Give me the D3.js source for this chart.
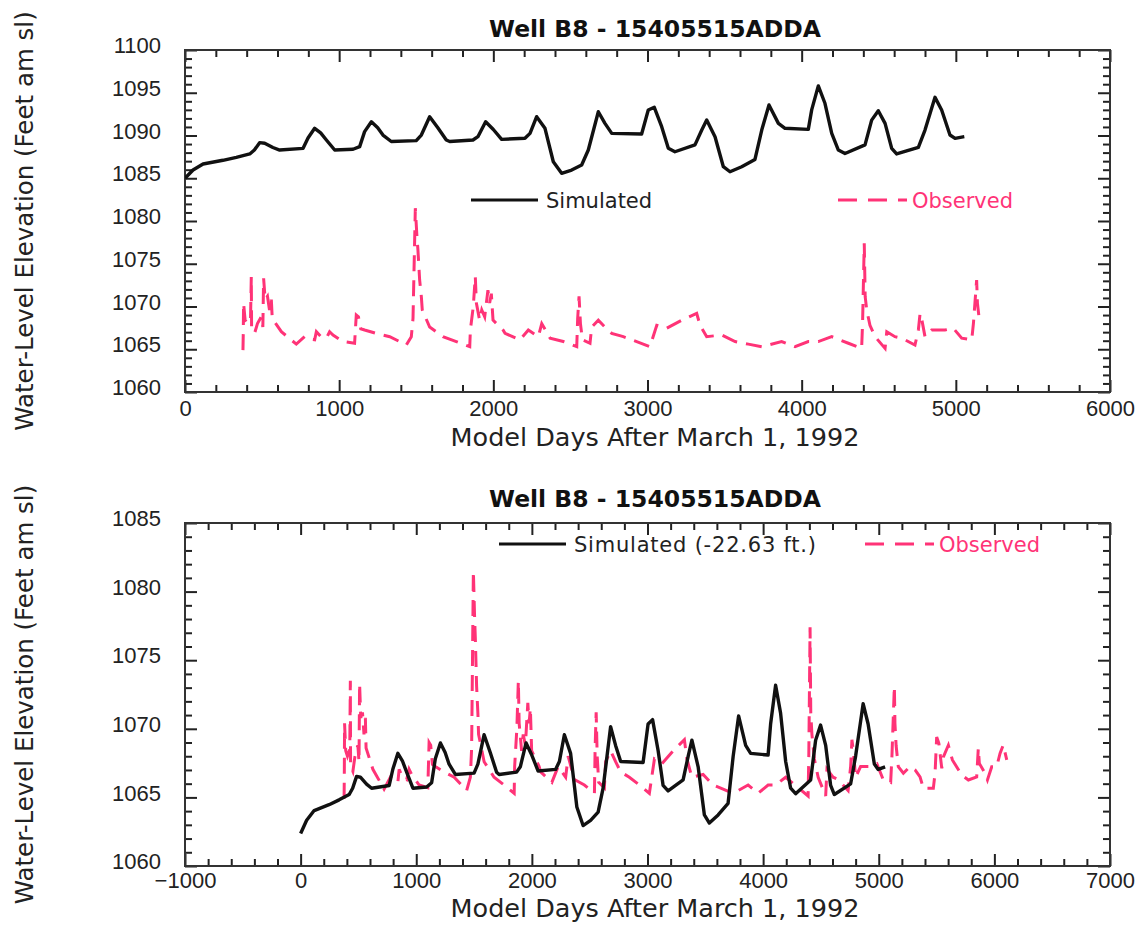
<!DOCTYPE html>
<html>
<head>
<meta charset="utf-8">
<script src="https://cdn.jsdelivr.net/npm/d3@7"></script>
<style>
  html, body { margin: 0; padding: 0; background: #fff; }
  svg { display: block; font-family: "DejaVu Sans", Verdana, sans-serif; }
</style>
</head>
<body>
<svg id="chart" width="1148" height="928"></svg>
<script>
// Well B8 - 15405515ADDA: simulated vs observed water levels

// Simulated heads (model days, feet amsl)
const simDays = [0, 52, 117, 246, 333, 420, 450, 484, 517, 570, 614, 766, 798, 841, 880, 917, 971,
  1090, 1133, 1165, 1209, 1250, 1284, 1338, 1500, 1533, 1587, 1640, 1695, 1717, 1868, 1900, 1950,
  2000, 2054, 2205, 2238, 2281, 2335, 2389, 2443, 2508, 2573, 2616, 2681, 2724, 2768, 2962, 3005,
  3044, 3092, 3135, 3178, 3308, 3352, 3384, 3438, 3492, 3535, 3611, 3697, 3741, 3788, 3849, 3892,
  4043, 4065, 4108, 4151, 4195, 4238, 4281, 4411, 4454, 4497, 4541, 4584, 4616, 4757, 4800, 4865,
  4908, 4962, 4995, 5055];
const simLevels = [1085.0, 1085.96, 1086.67, 1087.1, 1087.45, 1087.84, 1088.3, 1089.16, 1089.1, 1088.6,
  1088.3, 1088.5, 1089.7, 1090.84, 1090.3, 1089.47, 1088.3,
  1088.39, 1088.7, 1090.45, 1091.6, 1090.9, 1090.05, 1089.3, 1089.4, 1090.05, 1092.2, 1090.9, 1089.47,
  1089.3, 1089.47, 1089.86, 1091.6,
  1090.7, 1089.55, 1089.67, 1090.25, 1092.2, 1090.84, 1086.93, 1085.58, 1085.96, 1086.55, 1088.3,
  1092.78, 1091.42, 1090.25, 1090.17, 1092.98,
  1093.3, 1091.03, 1088.5, 1088.1, 1088.9, 1090.64, 1091.8, 1089.86, 1086.35, 1085.76, 1086.35,
  1087.2, 1090.64, 1093.57, 1091.42, 1090.84,
  1090.72, 1093.0, 1095.8, 1093.77, 1090.25, 1088.3, 1087.9, 1088.9, 1091.8, 1092.9, 1091.42,
  1088.5, 1087.84, 1088.62, 1090.64, 1094.46,
  1092.98, 1090.06, 1089.67, 1089.86];

// Shift applied to simulated heads in the lower panel
const simOffset = 22.63;

// Observed water levels (model days, feet amsl)
const obsDays = [376, 378, 380, 390, 405, 425, 430, 432, 452, 470, 495, 505, 510, 520, 535, 548, 560, 566,
  625, 722, 776, 800, 841, 852, 880, 917, 938, 960, 1025, 1100, 1111, 1125, 1140, 1165, 1241, 1328,
  1436, 1468, 1479, 1494, 1505, 1511, 1522, 1533, 1539, 1587, 1673, 1760, 1847, 1851, 1870, 1883,
  1890, 1911, 1925, 1944, 1965, 1976, 1987, 1998, 2063, 2076, 2173, 2227, 2292, 2314, 2368, 2454,
  2541, 2547, 2556, 2565, 2578, 2627, 2638, 2681, 2724, 2768, 2843, 2930, 3016, 3060, 3124, 3222,
  3319, 3341, 3384, 3481, 3568, 3654, 3741, 3870, 3957, 4043, 4108, 4195, 4303, 4389, 4395, 4406,
  4412, 4422, 4443, 4476, 4541, 4552, 4605, 4649, 4735, 4757, 4768, 4780, 4800, 4843, 4930, 4984,
  5038, 5103, 5114, 5135, 5140, 5150, 5169, 5213, 5270, 5314, 5357, 5386, 5472, 5487, 5501, 5520,
  5545, 5560, 5602, 5637, 5717, 5775, 5847, 5861, 5870, 5919, 5940, 5977, 6020, 6049, 6077, 6107];
const obsLevels = [1064.9, 1066.9, 1070.4, 1068.4, 1068.0, 1068.5, 1073.5, 1067.3, 1066.9, 1068.0, 1068.8,
  1067.6, 1073.3, 1070.8, 1071.2, 1069.6, 1070.8, 1068.6,
  1067.05, 1065.6, 1066.47, 1066.2, 1066.1, 1067.05, 1066.5, 1066.3, 1067.05, 1066.67, 1065.9, 1065.7,
  1069.0, 1068.8, 1067.4, 1067.25, 1066.86, 1066.47,
  1065.5, 1066.47, 1068.6, 1081.5, 1078.0, 1076.6, 1073.1, 1071.15, 1069.6, 1067.6, 1066.47, 1065.9,
  1065.3, 1067.25, 1070.0, 1073.5,
  1070.4, 1068.4, 1069.6, 1068.8, 1071.9, 1070.4, 1071.5, 1068.4, 1067.25, 1066.86, 1066.1, 1067.25,
  1066.47, 1068.0, 1066.3, 1065.9,
  1065.3, 1068.6, 1071.2, 1068.0, 1066.1, 1065.7, 1067.6, 1068.4, 1067.6, 1066.86, 1066.47, 1065.9,
  1065.3, 1067.8, 1067.45, 1068.4,
  1069.2, 1067.8, 1066.47, 1066.67, 1065.9, 1065.6, 1065.3, 1065.9, 1065.3, 1065.9, 1065.9, 1066.47,
  1065.7, 1065.1, 1068.0, 1077.4,
  1071.15, 1069.6, 1067.8, 1066.47, 1065.1, 1067.05, 1066.47, 1066.3, 1065.5, 1067.25, 1069.2, 1068.4,
  1066.47, 1067.25, 1067.25, 1067.45,
  1066.3, 1066.1, 1068.0, 1073.1, 1070.4, 1068.8, 1067.24, 1066.76, 1067.24, 1067.0, 1066.5, 1065.66,
  1065.66, 1066.76, 1069.4, 1068.94,
  1067.12, 1067.97, 1068.8, 1067.73, 1066.63, 1066.27, 1066.5, 1068.58, 1067.48, 1066.76, 1066.27,
  1067.24, 1067.24, 1068.2, 1068.82, 1067.73];

// Last observation day shown in the upper panel
const upperObsEnd = 5155;

// Axis ticks
const upperXTicks = [0, 1000, 2000, 3000, 4000, 5000, 6000];
const upperYTicks = [1060, 1065, 1070, 1075, 1080, 1085, 1090, 1095, 1100];
const lowerXTicks = [-1000, 0, 1000, 2000, 3000, 4000, 5000, 6000, 7000];
const lowerYTicks = [1060, 1065, 1070, 1075, 1080, 1085];

const titleText = "Well B8 - 15405515ADDA";
const xTitle = "Model Days After March 1, 1992";
const yTitle = "Water-Level Elevation (Feet am sl)";

const PINK = "#ff3377";
const INK = "#111";
const DASH = "16,9";

const svg = d3.select("#chart");

const simulated = simDays.map((d, i) => ({ day: d, level: simLevels[i] }));
const observed = obsDays.map((d, i) => ({ day: d, level: obsLevels[i] }));

function panel(cfg) {
  const { left, right, top, bottom } = cfg.box;
  const x = d3.scaleLinear().domain(cfg.xDomain).range([left, right]);
  const y = d3.scaleLinear().domain(cfg.yDomain).range([bottom, top]);
  const g = svg.append("g");

  const clipId = "clip-" + cfg.id;
  svg.append("clipPath").attr("id", clipId)
    .append("rect").attr("x", left).attr("y", top)
    .attr("width", right - left).attr("height", bottom - top);

  const minorX = d3.range(cfg.xDomain[0], cfg.xDomain[1] + 1, 200).filter(v => !cfg.xTicks.includes(v));
  const minorY = d3.range(cfg.yDomain[0], cfg.yDomain[1] + 0.5, 1).filter(v => !cfg.yTicks.includes(v));

  const styleAxis = sel => {
    sel.select(".domain").remove();
    sel.selectAll("line").attr("stroke", "#222").attr("stroke-width", 2);
    sel.selectAll("text").attr("fill", "#222").style("font-size", "22px");
  };

  // bottom axis with labels
  g.append("g").attr("transform", `translate(0,${bottom})`)
    .call(d3.axisBottom(x).tickValues(cfg.xTicks).tickSize(-12).tickPadding(cfg.xPad).tickFormat(d3.format("d")))
    .call(styleAxis);
  g.append("g").attr("transform", `translate(0,${bottom})`)
    .call(d3.axisBottom(x).tickValues(minorX).tickSize(-7).tickFormat(""))
    .call(styleAxis);
  // top axis ticks
  g.append("g").attr("transform", `translate(0,${top})`)
    .call(d3.axisTop(x).tickValues(cfg.xTicks).tickSize(-12).tickFormat(""))
    .call(styleAxis);
  g.append("g").attr("transform", `translate(0,${top})`)
    .call(d3.axisTop(x).tickValues(minorX).tickSize(-7).tickFormat(""))
    .call(styleAxis);
  // left axis with labels
  g.append("g").attr("transform", `translate(${left},0)`)
    .call(d3.axisLeft(y).tickValues(cfg.yTicks).tickSize(-12).tickPadding(24).tickFormat(d3.format("d")))
    .call(styleAxis)
    .call(s => s.selectAll("text").attr("dy", "0.12em"));
  g.append("g").attr("transform", `translate(${left},0)`)
    .call(d3.axisLeft(y).tickValues(minorY).tickSize(-7).tickFormat(""))
    .call(styleAxis);
  // right axis ticks
  g.append("g").attr("transform", `translate(${right},0)`)
    .call(d3.axisRight(y).tickValues(cfg.yTicks).tickSize(-12).tickFormat(""))
    .call(styleAxis);
  g.append("g").attr("transform", `translate(${right},0)`)
    .call(d3.axisRight(y).tickValues(minorY).tickSize(-7).tickFormat(""))
    .call(styleAxis);

  // frame
  g.append("rect").attr("x", left).attr("y", top)
    .attr("width", right - left).attr("height", bottom - top)
    .attr("fill", "none").attr("stroke", "#333").attr("stroke-width", 2);

  const line = d3.line().x(d => x(d.day)).y(d => y(d.level));
  const plot = g.append("g").attr("clip-path", `url(#${clipId})`);

  plot.append("path").datum(cfg.obs)
    .attr("d", line).attr("fill", "none")
    .attr("stroke", PINK).attr("stroke-width", 3)
    .attr("stroke-dasharray", DASH);

  plot.append("path").datum(cfg.sim)
    .attr("d", line).attr("fill", "none")
    .attr("stroke", INK).attr("stroke-width", 3.4)
    .attr("stroke-linejoin", "round");

  // titles
  g.append("text").attr("x", 655).attr("y", cfg.titleY)
    .attr("text-anchor", "middle").attr("font-weight", "bold")
    .style("font-size", "23.5px").attr("fill", "#111").text(titleText);
  g.append("text").attr("x", 655).attr("y", cfg.xTitleY)
    .attr("text-anchor", "middle").style("font-size", "25.5px").attr("fill", "#222").text(xTitle);
  g.append("text")
    .attr("transform", `translate(33,${(top + bottom) / 2}) rotate(-90)`)
    .attr("text-anchor", "middle").style("font-size", "24.5px").attr("fill", "#222").text(yTitle);

  // legend
  const L = cfg.legend;
  g.append("line").attr("x1", L.simX).attr("x2", L.simX + 67).attr("y1", L.y).attr("y2", L.y)
    .attr("stroke", INK).attr("stroke-width", 3);
  const simText = g.append("text").attr("x", L.simX + 75).attr("y", L.y + 7.5)
    .style("font-size", "21px").attr("fill", "#222").text(L.simLabel);
  if (L.simWidth) simText.attr("textLength", L.simWidth).attr("lengthAdjust", "spacing");
  g.append("line").attr("x1", L.obsX).attr("x2", L.obsX + 69).attr("y1", L.y).attr("y2", L.y)
    .attr("stroke", PINK).attr("stroke-width", 3).attr("stroke-dasharray", "19,11");
  g.append("text").attr("x", L.obsX + 74).attr("y", L.y + 7.5)
    .style("font-size", "21px").attr("fill", PINK).text("Observed");
}

panel({
  id: "upper",
  box: { left: 185, right: 1110, top: 50, bottom: 392 },
  xDomain: [0, 6000], yDomain: [1060, 1100],
  xTicks: upperXTicks, yTicks: upperYTicks,
  xPad: 8,
  sim: simulated,
  obs: observed.filter(d => d.day <= upperObsEnd),
  titleY: 37, xTitleY: 446,
  legend: { y: 200, simX: 471, obsX: 838, simLabel: "Simulated" }
});

panel({
  id: "lower",
  box: { left: 185, right: 1110, top: 523, bottom: 866 },
  xDomain: [-1000, 7000], yDomain: [1060, 1085],
  xTicks: lowerXTicks, yTicks: lowerYTicks,
  xPad: 6,
  sim: simulated.map(d => ({ day: d.day, level: d.level - simOffset })),
  obs: observed,
  titleY: 507, xTitleY: 917,
  legend: { y: 544, simX: 499, obsX: 865, simLabel: `Simulated (-${simOffset} ft.)`, simWidth: 242 }
});
</script>
</body>
</html>
